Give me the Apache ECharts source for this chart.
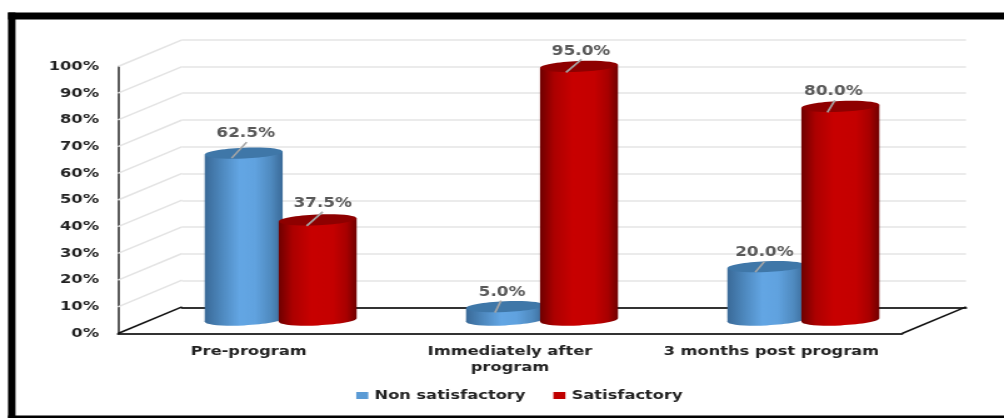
<!DOCTYPE html>
<html>
<head>
<meta charset="utf-8">
<style>
html,body{margin:0;padding:0;background:#fff;overflow:hidden}
/* The figure is laid out narrow and widened as a whole, which gives its lettering the broad look. */
#chart{width:803px;height:418px;transform:scaleX(1.25031);transform-origin:0 0}
</style>
<script src="https://cdn.jsdelivr.net/npm/echarts@6/dist/echarts.min.js"></script>
</head>
<body>
<div id="chart"></div>
<script>
// Program evaluation results, percent of participants per stage.
const categories = ['Pre-program', 'Immediately after\nprogram', '3 months post program'];
const nonSatisfactory = [62.5, 5.0, 20.0];
const satisfactory = [37.5, 95.0, 80.0];
const wallTicks = [0, 10, 20, 30, 40, 50, 60, 70, 80, 90, 100];

// Horizontal page pixels to chart units.
const SX = 1004 / 803;
const X = v => v / SX;

// Oblique projection: the depth vector of the box and the cylinder shape.
const DEPTH_X = X(64), DEPTH_Y = -26.6;
const RX = X(39), RY = 5.4, TILT = 3;
const FONT = 'DejaVu Sans';

// Leader line start, end and label centre relative to each cylinder's top.
const calloutsBlue = [
  { a: [-12, 5], b: [3, -11], t: [2, -20] },
  { a: [-10, 6], b: [-4, -6], t: [-3, -14] },
  { a: [-11, 5.5], b: [-2, -5], t: [-2, -14.5] }
];
const calloutsRed = [
  { a: [-11, 6], b: [5, -8], t: [5, -16.5] },
  { a: [-13, 6], b: [2.5, -7], t: [2, -15] },
  { a: [-13, 6], b: [-5.5, -6], t: [-7, -15] }
];

function cylinder(offset, stops, lid, callouts) {
  return function (params, api) {
    const i = api.value(0), v = api.value(1);
    const top = api.coord([i, v]);
    const base = api.coord([i, 0]);
    const cx = top[0] + X(offset), ty = top[1], by = base[1];
    const c = callouts[i];
    const gradient = new echarts.graphic.LinearGradient(0, 0, 1, 0, stops);
    const rot = TILT * Math.PI / 180;
    return {
      type: 'group',
      children: [
        { type: 'ellipse', shape: { cx: cx, cy: by, rx: RX, ry: RY }, rotation: rot, originX: cx, originY: by, style: { fill: gradient } },
        { type: 'polygon', shape: { points: [[cx - RX, ty + 1.7], [cx + RX, ty - 1.7], [cx + RX, by - 1.7], [cx - RX, by + 1.7]] }, style: { fill: gradient } },
        { type: 'ellipse', shape: { cx: cx, cy: ty, rx: RX, ry: RY }, rotation: rot, originX: cx, originY: ty, style: { fill: lid } },
        { type: 'line', shape: { x1: cx + X(c.a[0]), y1: ty + c.a[1], x2: cx + X(c.b[0]), y2: ty + c.b[1] }, style: { stroke: '#a6a6a6', lineWidth: 1.6 } },
        { type: 'text', x: cx + X(c.t[0]), y: ty + c.t[1], style: { text: v.toFixed(1) + '%', fill: '#595959', font: 'bold 13.5px "' + FONT + '"', align: 'center', verticalAlign: 'middle' } }
      ]
    };
  };
}

// Receding lines of the left wall, plus the floor's side edges at zero.
function renderWall(params, api) {
  const v = api.value(1);
  const p = api.coord([0, v]);
  const box = params.coordSys;
  const x0 = box.x, y0 = p[1];
  const children = [{
    type: 'line',
    shape: { x1: x0, y1: y0, x2: x0 + DEPTH_X, y2: y0 + DEPTH_Y },
    style: { stroke: v === 0 ? '#111' : '#e4e4e4', lineWidth: v === 0 ? 1.6 : 1.5 }
  }];
  if (v === 0) {
    const xr = box.x + box.width;
    children.push({
      type: 'line',
      shape: { x1: xr, y1: y0, x2: xr + DEPTH_X, y2: y0 + DEPTH_Y },
      style: { stroke: '#111', lineWidth: 1.6 }
    });
  }
  return { type: 'group', children: children };
}

const blueStops = [
  { offset: 0, color: '#3a6a98' }, { offset: 0.2, color: '#4c86bb' }, { offset: 0.45, color: '#63a6e4' },
  { offset: 0.65, color: '#60a2df' }, { offset: 0.85, color: '#4f8abf' }, { offset: 1, color: '#3a6a98' }
];
const redStops = [
  { offset: 0, color: '#6e0000' }, { offset: 0.18, color: '#ac0000' }, { offset: 0.42, color: '#c80000' },
  { offset: 0.7, color: '#c40000' }, { offset: 0.87, color: '#a80000' }, { offset: 1, color: '#700000' }
];

const chart = echarts.init(document.getElementById('chart'), null, { renderer: 'canvas', width: 803, height: 418 });
chart.setOption({
  animation: false,
  backgroundColor: '#fff',
  legend: {
    left: X(350), top: 384, itemWidth: X(12), itemHeight: 7, itemGap: X(28),
    icon: 'rect',
    data: ['Non satisfactory', 'Satisfactory'],
    textStyle: { fontFamily: FONT, fontWeight: 'bold', fontSize: 13, color: '#222' }
  },
  grid: [
    { left: X(118), top: 66.5, width: X(784), height: 267 },
    { left: X(182), top: 39.5, width: X(784), height: 268 },
    { left: X(150), top: 53, width: X(784), height: 267 }
  ],
  xAxis: [
    { gridIndex: 0, type: 'category', data: categories,
      axisLine: { lineStyle: { color: '#333', width: 2 } }, axisTick: { show: false },
      axisLabel: { fontFamily: FONT, fontWeight: 'bold', fontSize: 13, color: '#222', lineHeight: 16, margin: 10, interval: 0 } },
    { gridIndex: 1, type: 'category', data: categories,
      axisLine: { lineStyle: { color: '#333', width: 2 } }, axisTick: { show: false }, axisLabel: { show: false } },
    { gridIndex: 2, type: 'category', data: categories, show: false }
  ],
  yAxis: [
    { gridIndex: 0, type: 'value', min: 0, max: 100, interval: 10,
      axisLine: { show: true, lineStyle: { color: '#333', width: 1.6 } }, axisTick: { show: false },
      splitLine: { show: false },
      axisLabel: { formatter: '{value}%', fontFamily: FONT, fontWeight: 'bold', fontSize: 13, color: '#222', margin: X(19), padding: [5, 0, 0, 0] } },
    { gridIndex: 1, type: 'value', min: 0, max: 100, interval: 10,
      axisLine: { show: false }, axisTick: { show: false }, axisLabel: { show: false },
      splitLine: { show: true, lineStyle: { color: '#e4e4e4', width: 1.6 } } },
    { gridIndex: 2, type: 'value', min: 0, max: 100, interval: 10, show: false }
  ],
  series: [
    { name: 'wall', type: 'custom', xAxisIndex: 0, yAxisIndex: 0, silent: true, z: 1, clip: false,
      data: wallTicks.map(v => [0, v]), encode: { x: 0, y: 1 }, renderItem: renderWall },
    { name: 'Non satisfactory', type: 'custom', xAxisIndex: 2, yAxisIndex: 2, z: 3, clip: false,
      itemStyle: { color: '#5b9bd5' },
      data: nonSatisfactory.map((v, i) => [i, v]), encode: { x: 0, y: 1 },
      renderItem: cylinder(-37, blueStops, '#3f77a8', calloutsBlue) },
    { name: 'Satisfactory', type: 'custom', xAxisIndex: 2, yAxisIndex: 2, z: 4, clip: false,
      itemStyle: { color: '#c00000' },
      data: satisfactory.map((v, i) => [i, v]), encode: { x: 0, y: 1 },
      renderItem: cylinder(37, redStops, '#8e0000', calloutsRed) }
  ],
  // Black picture frame: top, left and bottom bands.
  graphic: [
    { type: 'rect', shape: { x: X(8), y: 12.5, width: X(996), height: 7 }, style: { fill: '#000' }, silent: true },
    { type: 'rect', shape: { x: X(8), y: 12.5, width: X(7.5), height: 406 }, style: { fill: '#000' }, silent: true },
    { type: 'rect', shape: { x: X(8), y: 415.5, width: X(996), height: 3 }, style: { fill: '#000' }, silent: true }
  ]
});
</script>
</body>
</html>
